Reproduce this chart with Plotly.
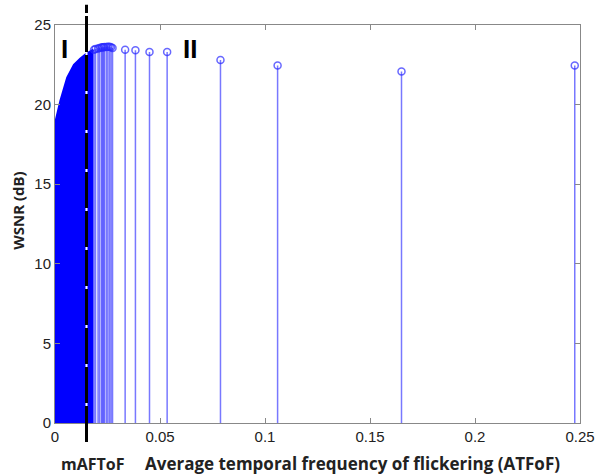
import plotly.graph_objects as go

# Dense region envelope
env_x = [0.0, 0.0026, 0.0058, 0.009, 0.0121, 0.015, 0.0183]
env_y = [18.8, 20.25, 21.7, 22.5, 22.9, 23.2, 23.45]

# Individual stems near the dense region
near_x = [0.0186, 0.0193, 0.0205, 0.0212, 0.0221, 0.0226, 0.0231, 0.0236,
          0.0245, 0.0252, 0.026, 0.0267, 0.0274]
near_y = [23.45, 23.5, 23.52, 23.55, 23.58, 23.6, 23.6, 23.62,
          23.62, 23.63, 23.63, 23.6, 23.55]

# Isolated stems (region II)
far_x = [0.0334, 0.0383, 0.045, 0.0534, 0.0788, 0.106, 0.165, 0.2475]
far_y = [23.44, 23.42, 23.3, 23.3, 22.8, 22.46, 22.08, 22.46]

mafof_x = 0.015

x_ticks = [0, 0.05, 0.1, 0.15, 0.2, 0.25]
x_tick_labels = ["0", "0.05", "0.1", "0.15", "0.2", "0.25"]
y_ticks = [0, 5, 10, 15, 20, 25]

stem_x_all = near_x + far_x
stem_y_all = near_y + far_y
sx, sy = [], []
for xv, yv in zip(stem_x_all, stem_y_all):
    sx += [xv, xv, None]
    sy += [0, yv, None]

fig = go.Figure()
fig.add_trace(go.Scatter(x=env_x, y=env_y, mode="lines", fill="tozeroy",
                         fillcolor="#0000ff", line=dict(color="#0000ff", width=2),
                         hoverinfo="skip"))
fig.add_trace(go.Scatter(x=sx, y=sy, mode="lines",
                         line=dict(color="rgba(30,30,255,0.6)", width=1.5),
                         hoverinfo="skip"))
fig.add_trace(go.Scatter(x=stem_x_all, y=stem_y_all, mode="markers",
                         marker=dict(symbol="circle-open", size=7,
                                     color="rgba(40,40,255,0.7)",
                                     line=dict(width=1.5)),
                         hoverinfo="skip"))

# mAFToF dashed marker line
fig.add_shape(type="line", xref="x", yref="paper", x0=mafof_x, x1=mafof_x,
              y0=-0.048, y1=1.051, line=dict(color="white", width=2))
fig.add_shape(type="line", xref="x", yref="paper", x0=mafof_x, x1=mafof_x,
              y0=-0.048, y1=1.051, line=dict(color="black", width=3, dash="36px,3px"))

fig.add_annotation(x=0.0045, y=23.5, text="<b>I</b>", showarrow=False,
                   font=dict(family="Liberation Sans", size=26, color="black"))
fig.add_annotation(x=0.0645, y=23.5, text="<b>II</b>", showarrow=False,
                   font=dict(family="Liberation Sans", size=26, color="black"))
fig.add_annotation(xref="paper", yref="paper", x=(92 - 54.5) / 525.5, y=-0.103,
                   xanchor="center", yanchor="middle", text="<b>mAFToF</b>",
                   showarrow=False,
                   font=dict(family="Open Sans", size=16, color="#222"))
fig.add_annotation(xref="paper", yref="paper", x=(352 - 54.5) / 525.5, y=-0.103,
                   xanchor="center", yanchor="middle",
                   text="<b>Average temporal frequency of flickering (ATFoF)</b>",
                   showarrow=False, font=dict(family="Open Sans", size=17, color="#222"))
fig.add_annotation(xref="paper", yref="paper", x=(18 - 54.5) / 525.5, y=(423 - 210) / 398.5,
                   xanchor="center", yanchor="middle", textangle=-90,
                   text="<b>WSNR (dB)</b>", showarrow=False,
                   font=dict(family="Open Sans", size=15, color="#222"))

fig.update_layout(
    width=598, height=476,
    margin=dict(l=54.5, r=18, t=24.5, b=53, autoexpand=False),
    plot_bgcolor="white", paper_bgcolor="white",
    showlegend=False,
    font=dict(family="Liberation Sans", size=15, color="#222"),
)
fig.update_xaxes(range=[0, 0.25], tickvals=x_ticks, ticktext=x_tick_labels,
                 ticks="inside", ticklen=5, tickcolor="#888", automargin=False,
                 showline=True, linecolor="#888", linewidth=1, mirror="ticks",
                 showgrid=False, zeroline=False)
fig.update_yaxes(range=[0, 25], tickvals=y_ticks, automargin=False,
                 ticks="inside", ticklen=5, tickcolor="#888",
                 showline=True, linecolor="#888", linewidth=1, mirror="ticks",
                 showgrid=False, zeroline=False)

fig.write_html("out.html", config={"displayModeBar": False},
               post_script="document.body.style.margin='0';document.body.style.overflow='hidden';")
